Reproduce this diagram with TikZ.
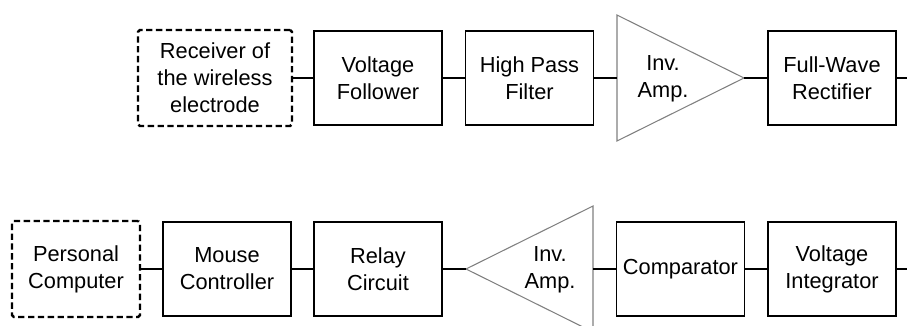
\documentclass[tikz,border=0pt]{standalone}
\usepackage{fontspec}
\setmainfont{Liberation Sans}
\usetikzlibrary{shapes.geometric}
\begin{document}
\begin{tikzpicture}[x=0.02cm, y=-0.02cm,
  font=\fontsize{12.4}{15.3}\selectfont,
  block/.style={draw, line width=0.7pt, align=center, minimum width=2.56cm, minimum height=1.88cm, inner sep=0pt, outer sep=0pt},
  dashblock/.style={block, dash pattern=on 3.6pt off 2pt, line width=1.4pt, rounded corners=1pt, minimum height=1.92cm},
  amp/.style={isosceles triangle, isosceles triangle stretches, draw=gray, line width=0.6pt, minimum width=2.52cm, minimum height=2.54cm, inner sep=0pt, outer sep=0pt},
  amptext/.style={align=center, inner sep=0pt},
  wire/.style={line width=0.7pt}]
\useasboundingbox (0,0) rectangle (907,325);
% Draw top row
\node[dashblock, minimum width=3.08cm] (rx) at (215,78) {Receiver of\\the wireless\\electrode};
\node[block] (vf) at (378,78) {Voltage\\Follower};
\node[block] (hpf) at (529.5,78) {High Pass\\Filter};
\node[amp, anchor=west] (amp1) at (617,78) {};
\node[amptext] (amp1txt) at (663,79) {Inv.\\Amp.};
\node[block] (fwr) at (832,78) {Full-Wave\\Rectifier};
\coordinate (outtop) at (907,78);
% Draw bottom row
\node[dashblock] (pc) at (76,269) {Personal\\Computer};
\node[block] (mc) at (227,269) {Mouse\\Controller};
\node[block] (rc) at (378,269) {Relay\\Circuit};
\node[amp, shape border rotate=180, anchor=east] (amp2) at (593,269) {};
\node[amptext] (amp2txt) at (550,270) {Inv.\\Amp.};
\node[block] (cmp) at (680.5,269) {Comparator};
\node[block] (vi) at (832,269) {Voltage\\Integrator};
\coordinate (outbot) at (907,269);
% Draw connections
\draw[wire] (rx.east) -- (vf.west);
\draw[wire] (vf.east) -- (hpf.west);
\draw[wire] (hpf.east) -- (amp1.west);
\draw[wire] (amp1.east) -- (fwr.west);
\draw[wire] (fwr.east) -- (outtop);
\draw[wire] (outbot) -- (vi.east);
\draw[wire] (vi.west) -- (cmp.east);
\draw[wire] (cmp.west) -- (amp2.east);
\draw[wire] (amp2.west) -- (rc.east);
\draw[wire] (rc.west) -- (mc.east);
\draw[wire] (mc.west) -- (pc.east);
\end{tikzpicture}
\end{document}
